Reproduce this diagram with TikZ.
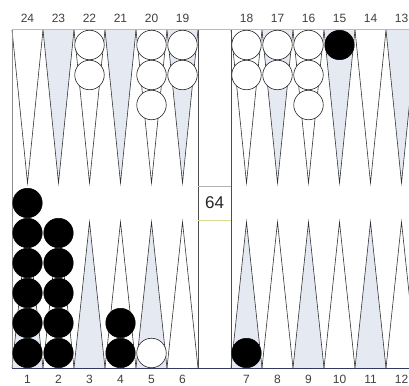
\documentclass[tikz,border=0pt]{standalone}
\usepackage{fontspec}
\setmainfont{Liberation Sans}
\begin{document}
\begin{tikzpicture}[x=1pt,y=-1pt,
  pointline/.style={draw=black!80,line width=0.6pt,line join=miter},
  blackman/.style={circle,fill=black,draw=black,line width=0.5pt,minimum size=29.5pt,inner sep=0pt},
  whiteman/.style={circle,fill=white,draw=black!85,line width=0.6pt,minimum size=29.5pt,inner sep=0pt},
  lbl/.style={font=\fontsize{12}{12}\selectfont,text=black!75,inner sep=0pt},
  cubetext/.style={font=\fontsize{17}{17}\selectfont,text=black!85,inner sep=0pt}]
\definecolor{shadeblue}{HTML}{E4E9F2}
\definecolor{topline}{HTML}{9FC4CC}
\definecolor{botline}{HTML}{303A60}
\definecolor{cubeline}{HTML}{D8DC90}
\useasboundingbox (0,0) rectangle (409,385);
\fill[white] (0,0) rectangle (409,385);
\begin{scope}
\clip (0,0) rectangle (409,385);
% triangles
\foreach \h/\xs in {0/12,1/231}{
  \foreach \k in {0,...,5}{
    \pgfmathsetmacro{\xa}{\xs+31*\k}
    \pgfmathsetmacro{\xb}{\xs+31*\k+31}
    \pgfmathsetmacro{\xm}{\xs+31*\k+15.5}
    \pgfmathtruncatemacro{\odd}{mod(\k,2)}
    \ifnum\odd=1
      \fill[shadeblue] (\xa,30) -- (\xm,183) -- (\xb,30) -- cycle;
    \else
      \fill[shadeblue] (\xa,368) -- (\xm,222) -- (\xb,368) -- cycle;
    \fi
    \draw[pointline] (\xa,30) -- (\xm,183) -- (\xb,30);
    \draw[pointline] (\xa,368) -- (\xm,222) -- (\xb,368);
  }
}
% board lines
\draw[topline,line width=1pt] (12,30) -- (409,30);
\draw[botline,line width=1pt] (12,368) -- (409,368);
\draw[black!45,line width=0.8pt] (12,30) -- (12,368);
\draw[black!70,line width=0.8pt] (198,30) -- (198,368);
\draw[black!70,line width=0.8pt] (231,30) -- (231,368);
% cube
\fill[white] (198.5,186) rectangle (230.5,220);
\draw[black!30,line width=0.7pt] (198,186) -- (231,186);
\draw[cubeline,line width=1pt] (198,220) -- (231,220);
\node[cubetext] (cube) at (214.5,203) {64};
% labels
\foreach \n [count=\i from 0] in {24,23,22,21,20,19}{
  \node[lbl] (t\n) at (27.5+31*\i,18) {\n};}
\foreach \n [count=\i from 0] in {18,17,16,15,14,13}{
  \node[lbl] (t\n) at (246.5+31*\i,18) {\n};}
\foreach \n [count=\i from 0] in {1,2,3,4,5,6}{
  \node[lbl] (b\n) at (27.5+31*\i,379) {\n};}
\foreach \n [count=\i from 0] in {7,8,9,10,11,12}{
  \node[lbl] (b\n) at (246.5+31*\i,379) {\n};}
% white checkers (top)
\foreach \x/\c/\nm in {89.5/2/p22,151.5/3/p20,182.5/2/p19,246.5/2/p18,277.5/2/p17,308.5/3/p16}{
  \foreach \j in {1,...,\c}{
    \node[whiteman] (\nm w\j) at (\x,{15+30*\j}) {};}}
\node[blackman] (p15b1) at (339.5,45) {};
% bottom checkers
\foreach \j in {1,...,6}{\node[blackman] (p1b\j) at (27.5,{383-30*\j}) {};}
\foreach \j in {1,...,5}{\node[blackman] (p2b\j) at (58.5,{383-30*\j}) {};}
\foreach \j in {1,...,2}{\node[blackman] (p4b\j) at (120.5,{383-30*\j}) {};}
\node[whiteman] (p5w1) at (151.5,353) {};
\node[blackman] (p7b1) at (246.5,353) {};
\end{scope}
\end{tikzpicture}
\end{document}
